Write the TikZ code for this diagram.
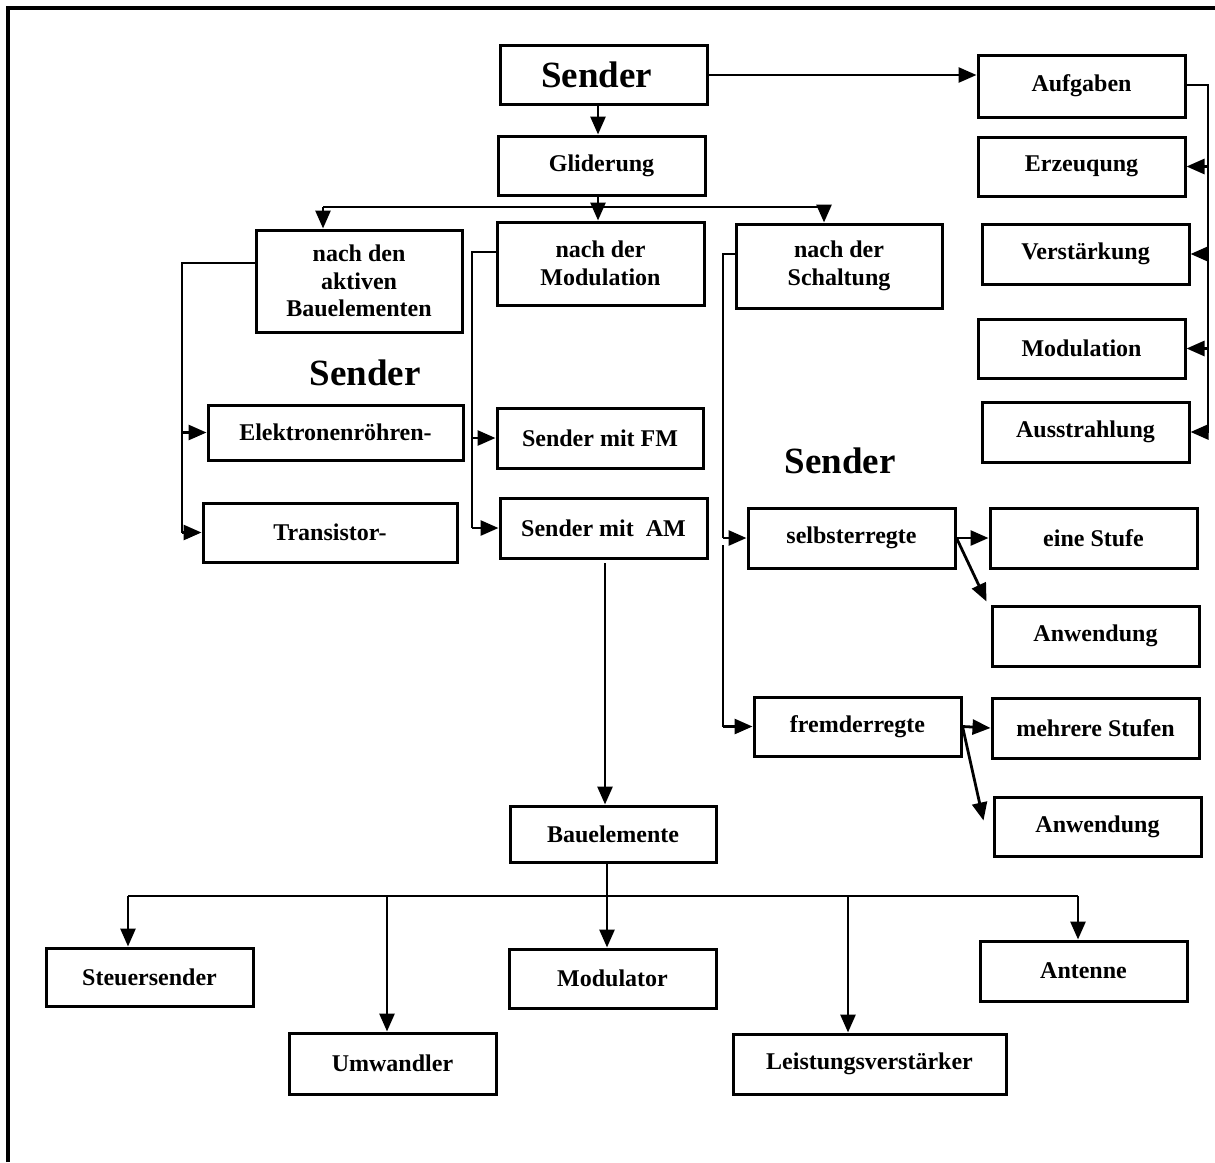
\documentclass[tikz,border=0pt]{standalone}
\usepackage{fontspec}
\setmainfont{Liberation Serif}
\usetikzlibrary{arrows.meta,calc}

\tikzset{
  bx/.style={draw, line width=3pt, rectangle, inner sep=0pt,
    font=\fontsize{24}{27.5}\selectfont\bfseries, align=center},
  conn/.style={line width=2.8pt},
  arr/.style={conn, -{Triangle[length=18pt,width=15pt]}},
  big/.style={font=\fontsize{37}{40}\selectfont\bfseries, inner sep=0pt},
  frame/.style={line width=3.4pt}
}

% box given by its corners (x1,y1) and (x2,y2), y measured downwards
\newcommand\boxnode[6]{%
  \pgfmathsetmacro\bw{#4-#2}\pgfmathsetmacro\bh{#5-#3}%
  \pgfmathsetmacro\bcx{(#2+#4)/2}\pgfmathsetmacro\bcy{-(#3+#5)/2}%
  \node[bx, minimum width=\bw pt, minimum height=\bh pt] (#1) at (\bcx,\bcy) {#6};}

\begin{document}
\begin{tikzpicture}[x=1pt,y=1pt]
\useasboundingbox (0,0) rectangle (1215,-1162);

% page frame
\draw[frame] (8,-1162) -- (8,-8) -- (1215,-8);

% top level
\boxnode{sender}{500}{45}{707}{104}{\fontsize{37}{40}\selectfont\hspace*{-14pt}Sender}
\boxnode{gl}{498}{136}{705}{195}{Gliderung}

% tasks column
\boxnode{aufg}{978}{55}{1185}{117}{Aufgaben}
\boxnode{erz}{978}{137}{1185}{196}{Erzeuqung}
\boxnode{verst}{982}{224}{1189}{284}{Verstärkung}
\boxnode{modr}{978}{319}{1185}{378}{Modulation}
\boxnode{ausst}{982}{402}{1189}{462}{Ausstrahlung}

% classification
\boxnode{nd}{256}{230}{462}{332}{nach den\\aktiven\\Bauelementen}
\boxnode{nm}{497}{222}{704}{305}{nach der\\Modulation}
\boxnode{ns}{736}{224}{942}{308}{nach der\\Schaltung}

\node[big] (sl) at (365,-373) {Sender};
\node[big] (sr) at (840,-461) {Sender};

\boxnode{el}{208}{405}{463}{460}{Elektronenröhren-}
\boxnode{tr}{203}{503}{457}{562}{Transistor-}
\boxnode{fm}{497}{408}{703}{468}{Sender mit FM}
\boxnode{am}{500}{498}{707}{558}{Sender mit\ \ AM}

\boxnode{se}{748}{508}{955}{568}{selbsterregte}
\boxnode{fe}{754}{697}{961}{756}{fremderregte}
\boxnode{es}{990}{508}{1197}{568}{eine Stufe}
\boxnode{aw1}{992}{606}{1199}{666}{Anwendung}
\boxnode{ms}{992}{698}{1199}{758}{mehrere Stufen}
\boxnode{aw2}{994}{797}{1201}{856}{Anwendung}

% components
\boxnode{bau}{510}{806}{716}{862}{Bauelemente}
\boxnode{steu}{46}{948}{253}{1006}{Steuersender}
\boxnode{umw}{289}{1033}{496}{1094}{Umwandler}
\boxnode{modu}{509}{949}{716}{1008}{Modulator}
\boxnode{leist}{733}{1034}{1006}{1094}{Leistungsverstärker}
\boxnode{ant}{980}{941}{1187}{1001}{Antenne}

% junction points
\coordinate (rt) at (1208,-85);
\coordinate (rb) at (1208,-432);
\coordinate (b1) at (598,-207);
\coordinate (b1l) at (323,-207);
\coordinate (b1r) at (824,-207);
\coordinate (lt) at (182,-263);
\coordinate (mt) at (472,-252);
\coordinate (st) at (723,-254);
\coordinate (sm) at (723,-545);
\coordinate (amx) at (605,-563);
\coordinate (b2) at (607,-896);
\coordinate (b2l) at (128,-896);
\coordinate (b2u) at (387,-896);
\coordinate (b2r) at (848,-896);
\coordinate (b2a) at (1078,-896);

% Sender -> Aufgaben -> tasks
\draw[arr] (sender.east |- 0,-75) -- (aufg.west |- 0,-75);
\draw[conn] (aufg.east |- rt) -- (rt) -- (rb);
\draw[arr] (rt |- erz.east) -- (erz.east);
\draw[arr] (rt |- verst.east) -- (verst.east);
\draw[arr] (rt |- modr.east) -- (modr.east);
\draw[arr] (rt |- ausst.east) -- (ausst.east);

% Sender -> Gliderung -> classification
\draw[arr] (b1 |- sender.south) -- (b1 |- gl.north);
\draw[conn] (b1 |- gl.south) -- (b1);
\draw[conn] (b1l) -- (b1r);
\draw[arr] (b1l) -- (b1l |- nd.north);
\draw[arr] (b1) -- (b1 |- nm.north);
\draw[arr] (b1r) -- (b1r |- ns.north);

% by active components
\draw[conn] (nd.west |- lt) -- (lt) -- (lt |- tr.west);
\draw[arr] (lt |- el.west) -- (el.west);
\draw[arr] (lt |- tr.west) -- (tr.west);

% by modulation
\draw[conn] (nm.west |- mt) -- (mt) -- (mt |- am.west);
\draw[arr] (mt |- fm.west) -- (fm.west);
\draw[arr] (mt |- am.west) -- (am.west);

% by circuit
\draw[conn] (ns.west |- st) -- (st) -- (st |- se.west);
\draw[arr] (st |- se.west) -- (se.west);
\draw[conn] (sm) -- (sm |- fe.west);
\draw[arr] (sm |- fe.west) -- (fe.west);

\draw[arr] (se.east) -- (es.west);
\draw[arr] (se.east) -- ($(aw1.north west)+(-4,3)$);
\draw[arr] (fe.east) -- (ms.west);
\draw[arr] (fe.east) -- ($(aw2.west)+(-9,6)$);

% AM transmitter -> components
\draw[arr] (amx) -- (amx |- bau.north);
\draw[conn] (b2 |- bau.south) -- (b2);
\draw[conn] (b2l) -- (b2a);
\draw[arr] (b2l) -- (b2l |- steu.north);
\draw[arr] (b2u) -- (b2u |- umw.north);
\draw[arr] (b2) -- (b2 |- modu.north);
\draw[arr] (b2r) -- (b2r |- leist.north);
\draw[arr] (b2a) -- (b2a |- ant.north);
\end{tikzpicture}
\end{document}
